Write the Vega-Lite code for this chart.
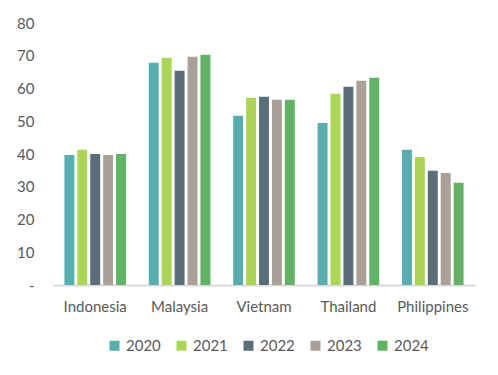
{
  "$schema": "https://vega.github.io/schema/vega-lite/v6.json",
  "autosize": {"type": "none"},
  "width": 422,
  "height": 262,
  "padding": {"left": 53, "top": 23, "right": 23, "bottom": 90},
  "background": "white",
  "data": {
    "values": [
      {"country": "Indonesia", "year": "2020", "value": 39.7},
      {"country": "Indonesia", "year": "2021", "value": 41.3},
      {"country": "Indonesia", "year": "2022", "value": 40.0},
      {"country": "Indonesia", "year": "2023", "value": 39.7},
      {"country": "Indonesia", "year": "2024", "value": 40.0},
      {"country": "Malaysia", "year": "2020", "value": 67.9},
      {"country": "Malaysia", "year": "2021", "value": 69.4},
      {"country": "Malaysia", "year": "2022", "value": 65.4},
      {"country": "Malaysia", "year": "2023", "value": 69.7},
      {"country": "Malaysia", "year": "2024", "value": 70.3},
      {"country": "Vietnam", "year": "2020", "value": 51.7},
      {"country": "Vietnam", "year": "2021", "value": 57.2},
      {"country": "Vietnam", "year": "2022", "value": 57.5},
      {"country": "Vietnam", "year": "2023", "value": 56.6},
      {"country": "Vietnam", "year": "2024", "value": 56.6},
      {"country": "Thailand", "year": "2020", "value": 49.5},
      {"country": "Thailand", "year": "2021", "value": 58.4},
      {"country": "Thailand", "year": "2022", "value": 60.5},
      {"country": "Thailand", "year": "2023", "value": 62.4},
      {"country": "Thailand", "year": "2024", "value": 63.3},
      {"country": "Philippines", "year": "2020", "value": 41.3},
      {"country": "Philippines", "year": "2021", "value": 39.1},
      {"country": "Philippines", "year": "2022", "value": 34.9},
      {"country": "Philippines", "year": "2023", "value": 34.2},
      {"country": "Philippines", "year": "2024", "value": 31.2}
    ]
  },
  "mark": {"type": "bar"},
  "encoding": {
    "x": {
      "field": "country",
      "type": "nominal",
      "sort": ["Indonesia", "Malaysia", "Vietnam", "Thailand", "Philippines"],
      "scale": {"paddingInner": 0.27, "paddingOuter": 0.135},
      "axis": {
        "title": null,
        "labelAngle": 0,
        "ticks": false,
        "domainColor": "#D9D9D9",
        "domainWidth": 2,
        "labelFont": "Lato",
        "labelFontSize": 15,
        "labelColor": "#595959",
        "labelPadding": 14
      }
    },
    "xOffset": {
      "field": "year",
      "type": "nominal",
      "scale": {"paddingInner": 0.23, "paddingOuter": 0}
    },
    "y": {
      "field": "value",
      "type": "quantitative",
      "scale": {"domain": [0, 80], "nice": false},
      "axis": {
        "title": null,
        "values": [0, 10, 20, 30, 40, 50, 60, 70, 80],
        "labelExpr": "datum.value == 0 ? '-' : datum.label",
        "grid": false,
        "domain": false,
        "ticks": false,
        "labelFont": "Lato",
        "labelFontSize": 15,
        "labelColor": "#595959",
        "labelPadding": 19
      }
    },
    "color": {
      "field": "year",
      "type": "nominal",
      "scale": {
        "domain": ["2020", "2021", "2022", "2023", "2024"],
        "range": ["#57AEB0", "#AAD653", "#5A6E7A", "#A9A197", "#61B466"]
      },
      "legend": {
        "title": null,
        "orient": "none",
        "direction": "horizontal",
        "legendX": 54,
        "legendY": 315,
        "symbolType": "square",
        "symbolSize": 100,
        "symbolStrokeWidth": 0,
        "labelFont": "Lato",
        "labelFontSize": 15,
        "labelColor": "#595959",
        "labelOffset": 4,
        "columnPadding": 13
      }
    }
  },
  "config": {"view": {"stroke": null}}
}
